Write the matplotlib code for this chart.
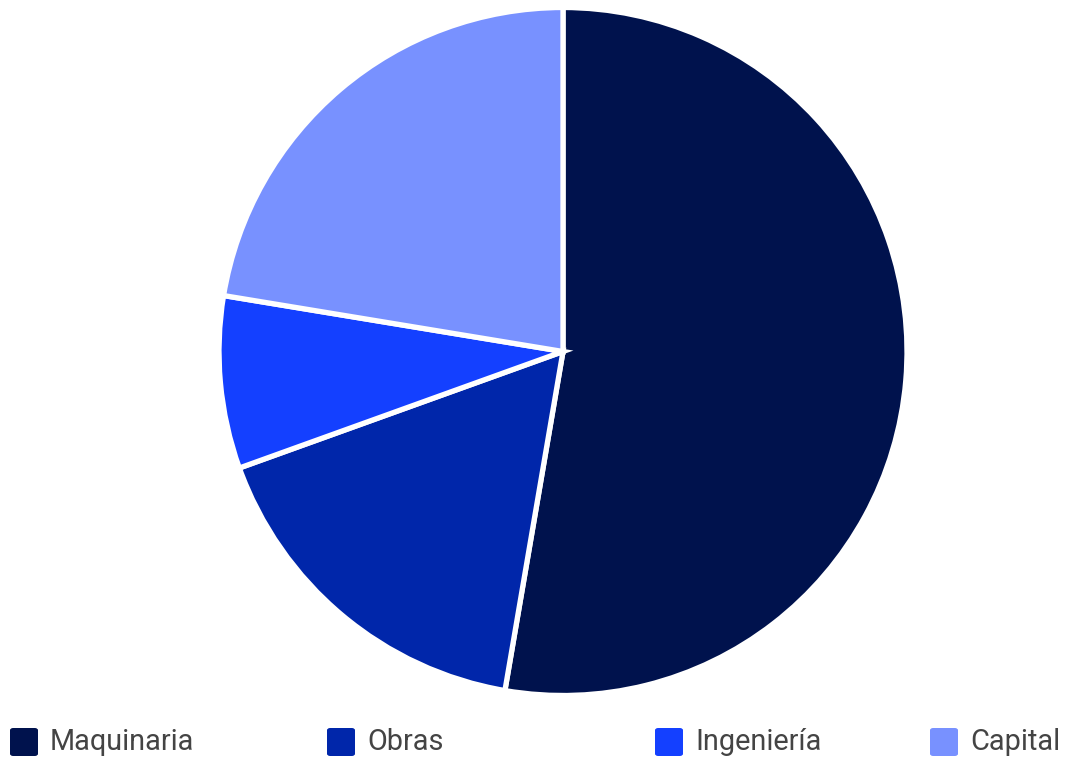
import matplotlib.pyplot as plt
from matplotlib.patches import FancyBboxPatch

labels = ['Maquinaria', 'Obras', 'Ingeniería', 'Capital']
values = [52.7, 16.8, 8.1, 22.4]
colors = ['#00124d', '#0026aa', '#1440ff', '#7891ff']
legendX = [10, 327, 655, 930]  # px, left edge of each legend square

W, H = 1065, 758
plt.rcParams['font.family'] = ['Roboto', 'DejaVu Sans']
fig = plt.figure(figsize=(W/100., H/100.), dpi=100)

# pie axes (white wedge edges eat ~2.5px of the outline, so pad the radius)
cx, cy, r = 563., 351.5, 344.
ax = fig.add_axes([(cx-r)/W, (H-cy-r)/H, 2*r/W, 2*r/H])
ax.pie(values, colors=colors, startangle=90, counterclock=False, radius=1,
       wedgeprops=dict(edgecolor='white', linewidth=3.8))
ax.set_xlim(-1, 1)
ax.set_ylim(-1, 1)
ax.set_aspect('equal')
ax.axis('off')

# legend along the bottom
for x, lab, c in zip(legendX, labels, colors):
    sq = FancyBboxPatch((x/W, (H-756)/H), 28./W, 28./H,
                        boxstyle='round,pad=0,rounding_size=0.003',
                        transform=fig.transFigure, facecolor=c, edgecolor='none')
    fig.patches.append(sq)
    fig.text((x+40)/W, (H-742)/H, lab, fontsize=20.8, color='#444444',
             va='center', ha='left')

fig.savefig('out.png', dpi=100)
